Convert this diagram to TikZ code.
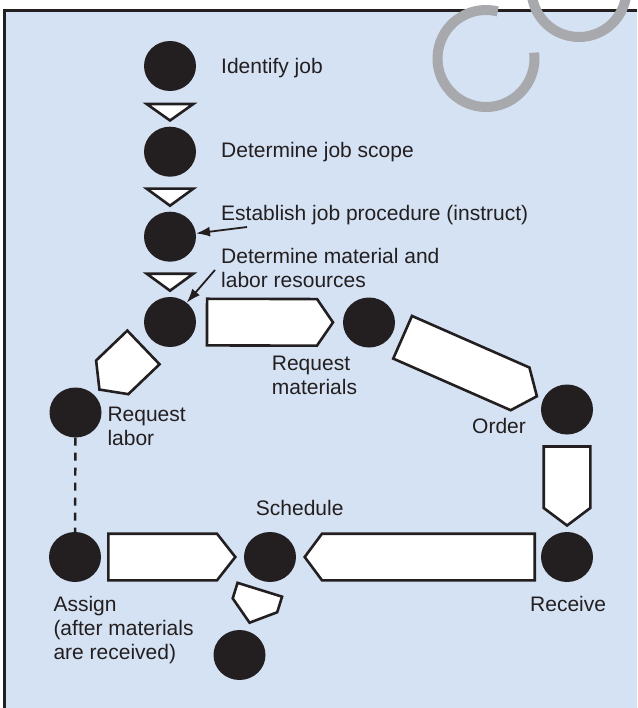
\documentclass[tikz,border=0pt]{standalone}
\usepackage{fontspec}
\setmainfont{Liberation Sans}
\usepackage{tikz}
\usetikzlibrary{arrows.meta}
\usetikzlibrary{calc}
\usetikzlibrary{shapes}
\usetikzlibrary{positioning}
\definecolor{panelblue}{RGB}{213,226,243}
\definecolor{ink}{RGB}{35,31,32}
\definecolor{stamp}{RGB}{167,169,172}
\tikzset{
    dot/.style={
        ellipse,
        fill=ink,
        inner sep=0pt,
        minimum width=52pt,
        minimum height=50pt
    },
    flow/.style={
        draw=ink,
        fill=white,
        line width=2.6pt
    },
    caption/.style={
        anchor=base west,
        align=left,
        inner sep=0pt,
        text=ink,
        font=\fontsize{21}{24}\selectfont
    },
    pointer/.style={
        draw=ink,
        line width=1.8pt,
        -{Latex[length=14pt,width=10pt]}
    },
    dashline/.style={
        draw=ink,
        line width=2.4pt,
        dash pattern=on 8pt off 7pt
    }
}
\newcommand\arrowhw{23.3pt}
% block arrow #1 -> #2: start, shoulder, tip (distances from #1)
\newcommand\flowarrow[5]{%
  \coordinate (fa-s) at ($(#1.center)!#3pt!(#2.center)$);
  \coordinate (fa-m) at ($(#1.center)!#4pt!(#2.center)$);
  \coordinate (fa-t) at ($(#1.center)!#5pt!(#2.center)$);
  \draw[flow] ($(fa-s)!\arrowhw!90:(#2.center)$) -- ($(fa-m)!\arrowhw!90:(#2.center)$) -- (fa-t)
    -- ($(fa-m)!\arrowhw!-90:(#2.center)$) -- ($(fa-s)!\arrowhw!-90:(#2.center)$) -- cycle;
}
\begin{document}
\begin{tikzpicture}[x=1pt,y=-1pt]
            \useasboundingbox (0,0) rectangle (637,708);
            \fill[white] (0,0) rectangle (637,708);
            \fill[panelblue] (4.7,10.5) rectangle (637,708);
            \draw[ink,line width=2.7pt] (4.7,708) -- (4.7,10.5) -- (637,10.5);
            % steps
            \node[dot] (idj) at (170,66) {};
            \node[dot] (scope) at (170,151.7) {};
            \node[dot] (proc) at (170,236.7) {};
            \node[dot] (res) at (170,322) {};
            \node[dot] (reqm) at (369,322.5) {};
            \node[dot] (ord) at (567,409.5) {};
            \node[dot] (rcv) at (567,557) {};
            \node[dot] (sch) at (270,557) {};
            \node[dot] (asg) at (75,557) {};
            \node[dot] (reql) at (75.5,412.5) {};
            \node[dot] (bot) at (239.5,655) {};
            \foreach \a/\b/\s/\m/\t in {idj/scope/38/38/54.5,scope/proc/37/37/54,proc/res/37/37/54,
                res/reqm/37/147/163,reqm/ord/36.7/165/183.4,ord/rcv/37/98.5/116,
                rcv/sch/32.3/245/262.3,asg/sch/33.3/142/160.3,res/reql/36.8/80/97.7,sch/bot/34.3/50.6/68.8}
              \flowarrow{\a}{\b}{\s}{\m}{\t};
            \draw[dashline] (reql) -- (asg);
            % labels (base = last line)
            \node[caption] (l-idj) at (221,73.3) {Identify job};
            \node[caption] (l-scope) at (221,157.7) {Determine job scope};
            \node[caption] (l-proc) at (221,221) {Establish job procedure (instruct)};
            \node[caption] (l-res) at (221,287.5) {Determine material and\\labor resources};
            \node[caption] (l-reqm) at (271.7,394) {Request\\materials};
            \node[caption] (l-reql) at (107.3,445) {Request\\labor};
            \node[caption] (l-ord) at (472,433.3) {Order};
            \node[caption] (l-sch) at (255.7,515) {Schedule};
            \node[caption] (l-rcv) at (530,611) {Receive};
            \node[caption] (l-asg) at (53.3,659) {Assign\\(after materials\\are received)};
            \coordinate (c-proc) at (247,227);
            \coordinate (c-res) at (215,270);
            \draw[pointer] (c-proc) -- (proc);
            \draw[pointer] (c-res) -- (res);
            % stamp
            \draw[stamp,line width=10pt] (486,58.5) ++(76:48.5pt) arc[start angle=76,end angle=367,radius=48.5pt];
            \draw[stamp,line width=10pt] (579,-10.5) circle[radius=47.5pt];
          \end{tikzpicture}
\end{document}
